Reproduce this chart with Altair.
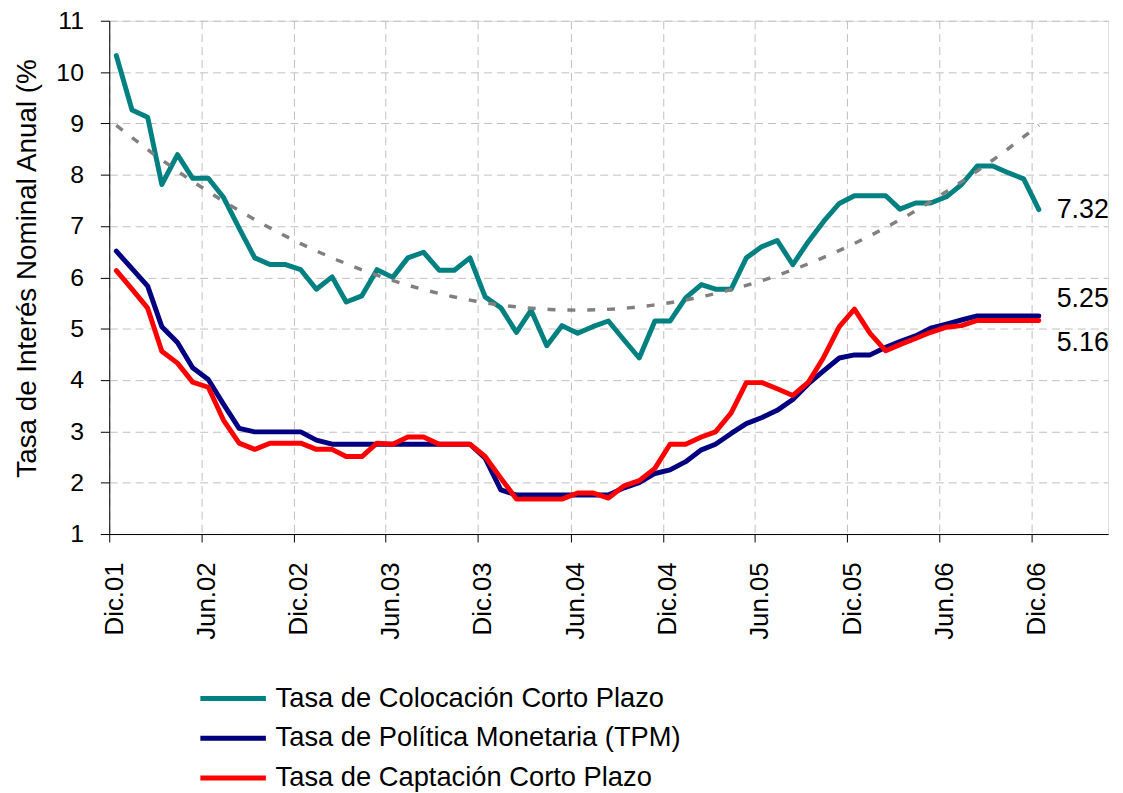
import altair as alt
import pandas as pd

# ---------------- data ----------------
series_names = [
    "Tasa de Colocación Corto Plazo",
    "Tasa de Política Monetaria (TPM)",
    "Tasa de Captación Corto Plazo",
]
series_colors = ["#008080", "#000080", "#FF0000"]

# monthly observations, Dic.01 ... Dic.06 (61 months, plotted mid-month)
dates = [d.strftime("%Y-%m-15") for d in pd.date_range("2001-12-01", periods=61, freq="MS")]

colocacion = [
    10.32, 9.26, 9.12, 7.81, 8.39, 7.93, 7.93, 7.56, 6.96, 6.38,
    6.25, 6.25, 6.15, 5.77, 6.01, 5.52, 5.64, 6.15, 6.00, 6.38,
    6.49, 6.14, 6.14, 6.38, 5.62, 5.41, 4.93, 5.36, 4.67, 5.06,
    4.91, 5.04, 5.15, 4.78, 4.43, 5.15, 5.15, 5.60, 5.86, 5.77,
    5.77, 6.38, 6.60, 6.72, 6.25, 6.70, 7.09, 7.44, 7.59, 7.59,
    7.59, 7.33, 7.45, 7.45, 7.57, 7.81, 8.17, 8.17, 8.04, 7.92,
    7.32,
]
tpm = [
    6.51, 6.17, 5.83, 5.04, 4.73, 4.24, 4.01, 3.53, 3.06, 2.99,
    2.99, 2.99, 2.99, 2.83, 2.75, 2.75, 2.75, 2.75, 2.75, 2.75,
    2.75, 2.75, 2.75, 2.75, 2.48, 1.86, 1.76, 1.76, 1.76, 1.76,
    1.76, 1.76, 1.76, 1.90, 2.00, 2.18, 2.25, 2.41, 2.64, 2.75,
    2.96, 3.15, 3.27, 3.41, 3.62, 3.93, 4.18, 4.43, 4.49, 4.49,
    4.64, 4.75, 4.86, 5.01, 5.09, 5.17, 5.25, 5.25, 5.25, 5.25,
    5.25,
]
captacion = [
    6.13, 5.77, 5.40, 4.56, 4.33, 3.96, 3.86, 3.22, 2.77, 2.65,
    2.77, 2.77, 2.77, 2.65, 2.65, 2.51, 2.51, 2.77, 2.75, 2.89,
    2.89, 2.75, 2.75, 2.75, 2.51, 2.09, 1.68, 1.68, 1.68, 1.68,
    1.80, 1.80, 1.70, 1.94, 2.04, 2.28, 2.75, 2.75, 2.89, 2.99,
    3.36, 3.95, 3.95, 3.83, 3.70, 3.96, 4.44, 5.04, 5.38, 4.91,
    4.57, 4.69, 4.81, 4.93, 5.03, 5.06, 5.16, 5.16, 5.16, 5.16,
    5.16,
]

x_tick_labels = ["Dic.01", "Jun.02", "Dic.02", "Jun.03", "Dic.03", "Jun.04",
                 "Dic.04", "Jun.05", "Dic.05", "Jun.06", "Dic.06"]
x_tick_months = [(2001, 12), (2002, 6), (2002, 12), (2003, 6), (2003, 12), (2004, 6),
                 (2004, 12), (2005, 6), (2005, 12), (2006, 6), (2006, 12)]
y_ticks = list(range(1, 12))

rows = []
for name, vals in zip(series_names, [colocacion, tpm, captacion]):
    for i, (d, v) in enumerate(zip(dates, vals)):
        rows.append({"series": name, "date": d, "idx": i, "value": v})
df = pd.DataFrame(rows)
last_idx = len(dates) - 1

FONT = "Liberation Sans"

label_expr = "[" + ",".join("'%s'" % t for t in x_tick_labels) + "]" \
    "[(utcyear(datum.value)-2001)*2 + (utcmonth(datum.value)==11 ? 0 : -1)]"

x_scale = alt.Scale(
    type="utc",
    domain=[alt.DateTime(year=2001, month=12, date=1, utc=True),
            alt.DateTime(year=2007, month=5, date=1, utc=True)],
)
x_axis = alt.Axis(
    values=[alt.DateTime(year=y, month=m, date=1, utc=True) for y, m in x_tick_months],
    labelExpr=label_expr,
    labelAngle=270,
    labelFontSize=26,
    labelFont=FONT,
    labelColor="black",
    labelPadding=20,
    labelOffset=5,
    tickSize=8,
    tickColor="black",
    domainColor="black",
    grid=True,
    gridColor="#c0c0c0",
    gridDash=[8, 5],
    title=None,
)
y_scale = alt.Scale(domain=[1, 11], nice=False, zero=False)
y_axis = alt.Axis(
    values=y_ticks,
    labelFontSize=25,
    labelFont=FONT,
    labelColor="black",
    labelPadding=17,
    tickSize=9,
    tickColor="black",
    domainColor="black",
    grid=True,
    gridColor="#c0c0c0",
    gridDash=[8, 5],
    title="Tasa de Interés Nominal Anual (%",
    titleFont=FONT,
    titleFontSize=28,
    titleFontWeight="normal",
    titleColor="black",
    titleX=-82,
    titleY=249,
    titleAlign="center",
    titleBaseline="middle",
)

lines = alt.Chart(df).mark_line(strokeWidth=5, strokeJoin="round", strokeCap="round").encode(
    x=alt.X("date:T", scale=x_scale, axis=x_axis),
    y=alt.Y("value:Q", scale=y_scale, axis=y_axis),
    color=alt.Color(
        "series:N",
        scale=alt.Scale(domain=series_names, range=series_colors),
        legend=alt.Legend(
            orient="none",
            legendX=111,
            legendY=669,
            title=None,
            symbolType="M-3,0H3",
            symbolSize=484,
            symbolStrokeWidth=5,
            labelFont=FONT,
            labelFontSize=27.5,
            labelColor="black",
            labelLimit=1000,
            labelOffset=29,
            rowPadding=11,
            padding=0,
        ),
    ),
)

trend = alt.Chart(df).transform_filter(
    alt.datum.series == series_names[0]
).transform_calculate(
    day="time(toDate(datum.date))/86400000"
).transform_regression(
    "day", "value", method="poly", order=2
).transform_calculate(
    t="datum.day*86400000"
).mark_line(color="#808080", strokeWidth=3.5, strokeDash=[8, 12]).encode(
    x="t:T",
    y="value:Q",
)

label_dy = [0, -17, 23]
labels = []
for name, dy in zip(series_names, label_dy):
    labels.append(
        alt.Chart(df).transform_filter(
            (alt.datum.series == name) & (alt.datum.idx == last_idx)
        ).mark_text(align="left", baseline="middle", dx=18, dy=dy,
                    font=FONT, fontSize=27, color="black").encode(
            x="date:T",
            y="value:Q",
            text=alt.Text("value:Q", format=".2f"),
        )
    )

chart = alt.layer(lines, trend, *labels).properties(
    width=1006,
    height=517,
    autosize=alt.AutoSizeParams(type="none"),
    padding={"left": 102, "top": 10, "right": 7, "bottom": 258},
).configure_view(stroke=None).configure(font=FONT)

chart.save("out.html", embed_options={"renderer": "svg", "actions": False})
